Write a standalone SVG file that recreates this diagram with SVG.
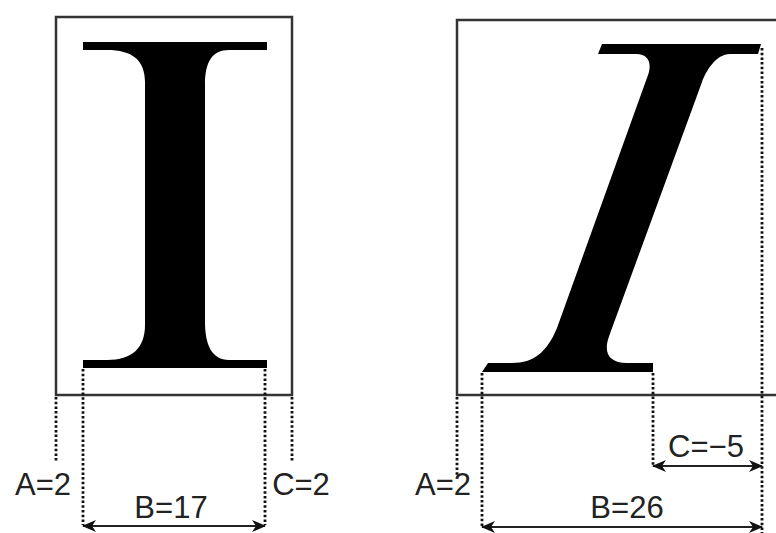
<svg xmlns="http://www.w3.org/2000/svg" width="776" height="533" viewBox="0 0 776 533">
<style>
.box{fill:none;stroke:#333;stroke-width:2.5}
.glyph{fill:#000}
.dot{fill:none;stroke:#111;stroke-width:2.8;stroke-dasharray:2.5 2.2}
.dim{fill:none;stroke:#222;stroke-width:2.2;marker-start:url(#ah);marker-end:url(#ah)}
text{font-family:"Liberation Sans",Arial,sans-serif;font-size:31px;fill:#222;text-anchor:middle}
</style>
<defs>
<marker id="ah" markerUnits="userSpaceOnUse" markerWidth="14" markerHeight="12" viewBox="0 0 14 12" refX="13" refY="6" orient="auto-start-reverse">
<path d="M0,0 L14,6 L0,12 L4,6 Z" fill="#111"/>
</marker>
</defs>
<rect width="776" height="533" fill="#fff"/>
<g id="upright">
<rect class="box" x="56" y="17" width="236" height="378"/>
<path class="glyph" d="M83,42 H267 V50 H229 C212,50 205,62 205,85 V322 C205,345 212,360 229,360 H267 V368 H83 V360 H107 C132,360 145,348 145,325 V82 C145,60 132,50 107,50 H83 Z"/>
</g>
<g id="italic">
<rect class="box" x="457" y="20" width="330" height="375"/>
<path class="glyph" d="M602,44 H761 L758,54 H730 C716,54 706,71 702,82 L609.5,335 C603,352 608,363 627,363 H653 V372 H482 L488,363 H512 C534,363 547,352 557,328 L648,75 C651.6,65 650,54 636,54 H598 Z"/>
</g>
<g id="connectors">
<line class="dot" x1="56" y1="397" x2="56" y2="462"/>
<line class="dot" x1="83" y1="369" x2="83" y2="525"/>
<line class="dot" x1="265" y1="369" x2="265" y2="525"/>
<line class="dot" x1="292" y1="397" x2="292" y2="462"/>
<line class="dot" x1="457" y1="397" x2="457" y2="477"/>
<line class="dot" x1="482" y1="373" x2="482" y2="527"/>
<line class="dot" x1="653" y1="373" x2="653" y2="466"/>
<line class="dot" x1="762" y1="48" x2="762" y2="533"/>
<line class="dim" x1="83" y1="526" x2="265" y2="526"/>
<line class="dim" x1="653" y1="466" x2="762" y2="466"/>
<line class="dim" x1="482" y1="527" x2="762" y2="527"/>
</g>
<g id="labels">
<text x="43" y="495">A=2</text>
<text x="171" y="518">B=17</text>
<text x="301" y="495">C=2</text>
<text x="443" y="495">A=2</text>
<text x="706" y="457">C=−5</text>
<text x="627" y="518">B=26</text>
</g>
</svg>
